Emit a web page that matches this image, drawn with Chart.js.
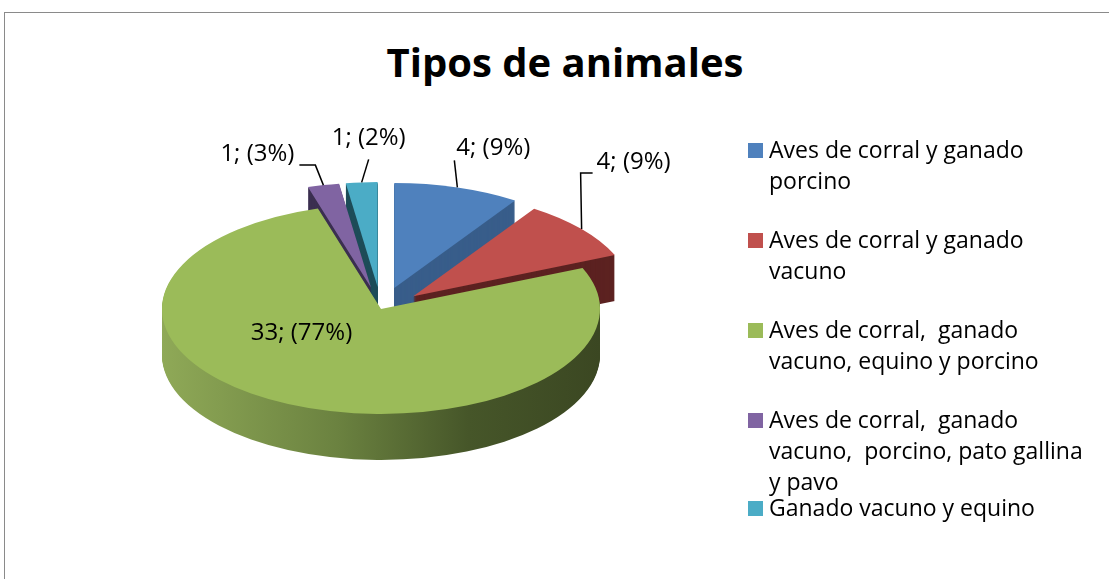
<!DOCTYPE html>
<html lang="es">
<head>
<meta charset="utf-8">
<title>Tipos de animales</title>
<script src="https://cdn.jsdelivr.net/npm/chart.js"></script>
<style>
    html, body {
        margin: 0;
        padding: 0;
        width: 1109px;
        height: 579px;
        overflow: hidden;
        background: #ffffff;
        font-family: 'Open Sans', sans-serif;
    }
    .frame {
        position: absolute;
        left: 4px;
        top: 12px;
        width: 1200px;
        height: 700px;
        border: 1px solid #8a8a8a;
    }
    .chart-title {
        position: absolute;
        left: 0;
        top: 38px;
        width: 1130px;
        text-align: center;
        font-weight: 700;
        font-size: 40px;
        line-height: 48px;
        color: #000000;
    }
    .chart-box {
        position: absolute;
        left: 0;
        top: 0;
        width: 1109px;
        height: 579px;
    }
    .legend {
        position: absolute;
        left: 748px;
        top: 0;
        margin: 0;
        padding: 0;
        list-style: none;
    }
    .legend li {
        position: absolute;
        left: 0;
        font-size: 23px;
        line-height: 31px;
        color: #000000;
        white-space: pre;
    }
    .legend .swatch {
        position: absolute;
        left: 0;
        top: 9px;
        width: 15px;
        height: 15px;
    }
    .legend .text {
        display: block;
        margin-left: 21px;
    }
</style>
</head>
<body>
<div class="frame"></div>
<div class="chart-title" id="chartTitle"></div>
<div class="chart-box"><canvas id="pieChart"></canvas></div>
<ul class="legend" id="pieLegend"></ul>

<script>
// ===================================
// Tipos de animales - 3D style exploded pie
// ===================================

const chartTitle = 'Tipos de animales';

const categories = [
    'Aves de corral y ganado\nporcino',
    'Aves de corral y ganado\nvacuno',
    'Aves de corral,  ganado\nvacuno, equino y porcino',
    'Aves de corral,  ganado\nvacuno,  porcino, pato gallina\ny pavo',
    'Ganado vacuno y equino'
];
const counts = [4, 4, 33, 1, 1];
const percentLabels = ['9%', '9%', '77%', '3%', '2%'];

// Office 2007 palette (top face) and the darker side walls
const topColors = ['#4F81BD', '#C0504D', '#9BBB59', '#8064A2', '#4BACC6'];
const sideColors = ['#385D8A', '#5C2221', null, '#3B2F50', '#1F4D59'];

const TILT = 0.479;      // vertical squash of the pie disc
const DEPTH = 46;        // thickness of the pie, px
const explode = [46, 42, 0, 46, 46];

// leader line / label placement relative to the slice edge
const labelLayout = [
    { elbow: [-3, -27], tail: 0, align: 'left', dx: 2, dy: -12 },
    { elbow: [-1, -56], tail: 12, align: 'left', dx: 4, dy: -11 },
    { inside: true, dx: -33, dy: -23 },
    { elbow: [-8, -20], tail: -16, align: 'right', dx: -5, dy: -11 },
    { elbow: [7, -23], tail: 0, align: 'center', dx: 0, dy: -21 }
];

function sliceShift(arc, i) {
    const mid = (arc.startAngle + arc.endAngle) / 2;
    return { x: Math.cos(mid) * explode[i], y: Math.sin(mid) * explode[i] };
}

function drawFaces(ctx, arcs, cx, cy, dy, fillFor) {
    ctx.save();
    ctx.translate(cx, cy + dy);
    ctx.scale(1, TILT);
    ctx.translate(-cx, -cy);
    arcs.forEach((arc, i) => {
        const shift = sliceShift(arc, i);
        const orig = arc.options;
        const fill = fillFor(i);
        arc.options = Object.assign({}, orig, {
            backgroundColor: fill,
            borderColor: fill,
            borderWidth: 0,
            offset: 0
        });
        ctx.save();
        ctx.translate(shift.x, shift.y);
        arc.draw(ctx);
        ctx.restore();
        arc.options = orig;
    });
    ctx.restore();
}

const pie3dPlugin = {
    id: 'pie3d',
    beforeDatasetsDraw(chart) {
        const ctx = chart.ctx;
        const arcs = chart.getDatasetMeta(0).data;
        if (!arcs.length) return;
        const cx = arcs[0].x;
        const cy = arcs[0].y;
        const r = arcs[0].outerRadius;

        // shaded green wall, light on the left and dark on the right
        const greenSide = ctx.createLinearGradient(cx - r, 0, cx + r, 0);
        greenSide.addColorStop(0, '#8FA957');
        greenSide.addColorStop(0.4, '#6B8240');
        greenSide.addColorStop(0.7, '#465629');
        greenSide.addColorStop(1, '#3B4722');

        for (let d = DEPTH; d >= 1; d--) {
            drawFaces(ctx, arcs, cx, cy, d, i => sideColors[i] || greenSide);
        }
        drawFaces(ctx, arcs, cx, cy, 0, i => topColors[i]);
        return false;
    },
    // data labels "n; (p%)" with leader lines
    afterDraw(chart) {
        const ctx = chart.ctx;
        const arcs = chart.getDatasetMeta(0).data;
        if (!arcs.length) return;
        const cx = arcs[0].x;
        const cy = arcs[0].y;
        const r = arcs[0].outerRadius;

        ctx.save();
        ctx.font = '24px "Open Sans"';
        ctx.fillStyle = '#000000';
        ctx.strokeStyle = '#000000';
        ctx.lineWidth = 1.5;
        ctx.textBaseline = 'middle';

        arcs.forEach((arc, i) => {
            const lay = labelLayout[i];
            const text = counts[i] + '; (' + percentLabels[i] + ')';
            const mid = (arc.startAngle + arc.endAngle) / 2;

            if (lay.inside) {
                const ix = cx + Math.cos(mid) * r * 0.5 + lay.dx;
                const iy = cy + Math.sin(mid) * r * 0.5 * TILT + lay.dy;
                ctx.textAlign = 'center';
                ctx.fillText(text, ix, iy);
                return;
            }

            const rr = r + explode[i];
            const ax = cx + Math.cos(mid) * rr;
            const ay = cy + Math.sin(mid) * rr * TILT;
            const ex = ax + lay.elbow[0];
            const ey = ay + lay.elbow[1];
            const tx = ex + lay.tail;
            ctx.beginPath();
            ctx.moveTo(ax, ay);
            ctx.lineTo(ex, ey);
            if (lay.tail) ctx.lineTo(tx, ey);
            ctx.stroke();

            ctx.textAlign = lay.align;
            ctx.fillText(text, tx + lay.dx, ey + lay.dy);
        });
        ctx.restore();
    }
};

function buildLegend() {
    const list = document.getElementById('pieLegend');
    categories.forEach((name, i) => {
        const li = document.createElement('li');
        li.style.top = (i < 4 ? 134 + 90 * i : 492) + 'px';
        const sw = document.createElement('span');
        sw.className = 'swatch';
        sw.style.background = topColors[i];
        const tx = document.createElement('span');
        tx.className = 'text';
        tx.textContent = name;
        li.appendChild(sw);
        li.appendChild(tx);
        list.appendChild(li);
    });
}

function initPieChart() {
    document.getElementById('chartTitle').textContent = chartTitle;
    buildLegend();

    const ctx = document.getElementById('pieChart');
    new Chart(ctx, {
        type: 'pie',
        data: {
            labels: categories,
            datasets: [{
                data: counts,
                backgroundColor: topColors,
                borderWidth: 0,
                radius: 219
            }]
        },
        options: {
            responsive: true,
            maintainAspectRatio: false,
            animation: false,
            events: [],
            layout: {
                padding: { left: 140, right: 487, top: 100, bottom: 61 }
            },
            plugins: {
                legend: { display: false },   // legend is built in HTML
                title: { display: false },
                tooltip: { enabled: false }
            }
        },
        plugins: [pie3dPlugin]
    });
}

initPieChart();
</script>
</body>
</html>
